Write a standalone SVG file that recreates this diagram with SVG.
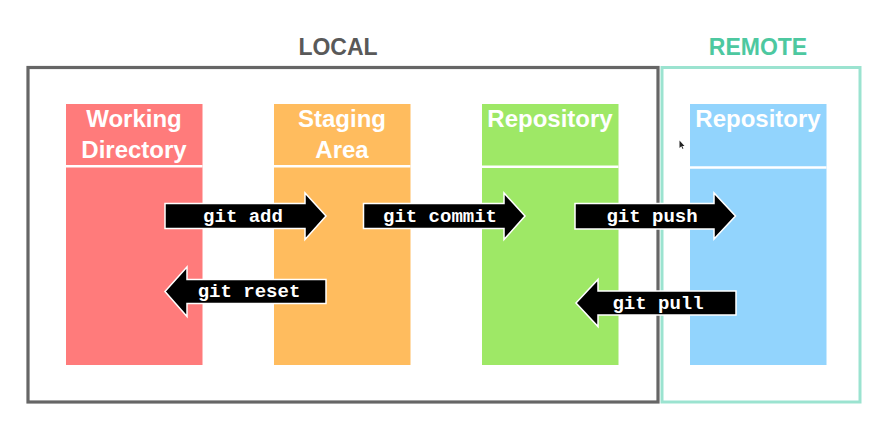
<svg xmlns="http://www.w3.org/2000/svg" width="885" height="432" viewBox="0 0 885 432">
  <style>
    .title { font-family: "Liberation Sans", Arial, sans-serif; font-weight: bold; font-size: 23px; text-anchor: middle; }
    .head { font-family: "Liberation Sans", Arial, sans-serif; font-weight: bold; font-size: 24px; fill: #ffffff; text-anchor: middle; }
    .cmd { font-family: "Liberation Mono", "DejaVu Sans Mono", monospace; font-weight: bold; font-size: 19px; fill: #ffffff; text-anchor: middle; }
    .arrow { fill: #000000; stroke: #ffffff; stroke-width: 1.5; stroke-linejoin: miter; }
    .sep { stroke: #ffffff; stroke-width: 2.5; }
  </style>
  <rect width="885" height="432" fill="#ffffff"/>

  <!-- zones -->
  <g id="local">
    <rect x="28" y="67.5" width="630" height="334.5" fill="none" stroke="#666666" stroke-width="3.2"/>
    <text class="title" x="338" y="55" fill="#595959">LOCAL</text>
  </g>
  <g id="remote">
    <rect x="662" y="67.5" width="198" height="334.5" fill="none" stroke="#9be3d0" stroke-width="3"/>
    <text class="title" x="758" y="55" fill="#4dc8a0">REMOTE</text>
  </g>

  <!-- columns -->
  <g id="working-directory">
    <rect x="66" y="104" width="136.5" height="261" fill="#ff7b7b"/>
    <line class="sep" x1="66" y1="166.3" x2="202.5" y2="166.3"/>
    <text class="head" x="134" y="127">Working</text>
    <text class="head" x="134" y="157.5">Directory</text>
  </g>
  <g id="staging-area">
    <rect x="274" y="104" width="136.5" height="261" fill="#ffbc5e"/>
    <line class="sep" x1="274" y1="166.3" x2="410.5" y2="166.3"/>
    <text class="head" x="342" y="127">Staging</text>
    <text class="head" x="342" y="157.5">Area</text>
  </g>
  <g id="local-repository">
    <rect x="482" y="104" width="136.5" height="261" fill="#9ee866"/>
    <line class="sep" x1="482" y1="166.8" x2="618.5" y2="166.8"/>
    <text class="head" x="550" y="127">Repository</text>
  </g>
  <g id="remote-repository">
    <rect x="690" y="104" width="136.5" height="261" fill="#92d4fd"/>
    <line class="sep" x1="690" y1="167.5" x2="826.5" y2="167.5"/>
    <text class="head" x="758" y="127">Repository</text>
  </g>

  <!-- commands -->
  <g id="connectors">
    <g id="git-add">
      <polygon class="arrow" points="165,203.5 305,203.5 305,193 326,216 305,239.5 305,228.5 165,228.5"/>
      <text class="cmd" x="243" y="221.5">git add</text>
    </g>
    <g id="git-commit">
      <polygon class="arrow" points="363.5,203.5 504,203.5 504,193 525,216 504,239.5 504,228.5 363.5,228.5"/>
      <text class="cmd" x="440" y="221.5">git commit</text>
    </g>
    <g id="git-reset">
      <polygon class="arrow" points="326,279.5 187,279.5 187,267 165,291.5 187,316.5 187,303.5 326,303.5"/>
      <text class="cmd" x="249" y="297">git reset</text>
    </g>
    <g id="git-push">
      <polygon class="arrow" points="575,203.5 714,203.5 714,193 735.5,216 714,239 714,229 575,229"/>
      <text class="cmd" x="652" y="221.5">git push</text>
    </g>
    <g id="git-pull">
      <polygon class="arrow" points="736,291 598,291 598,279.5 576,303 598,326.5 598,315 736,315"/>
      <text class="cmd" x="658" y="308.5">git pull</text>
    </g>
  </g>

  <!-- mouse pointer -->
  <polygon points="679.5,140.5 679.5,148 681.3,146.3 682.6,149 683.4,148.6 682.2,146 684.5,146" fill="#222222"/>
</svg>
